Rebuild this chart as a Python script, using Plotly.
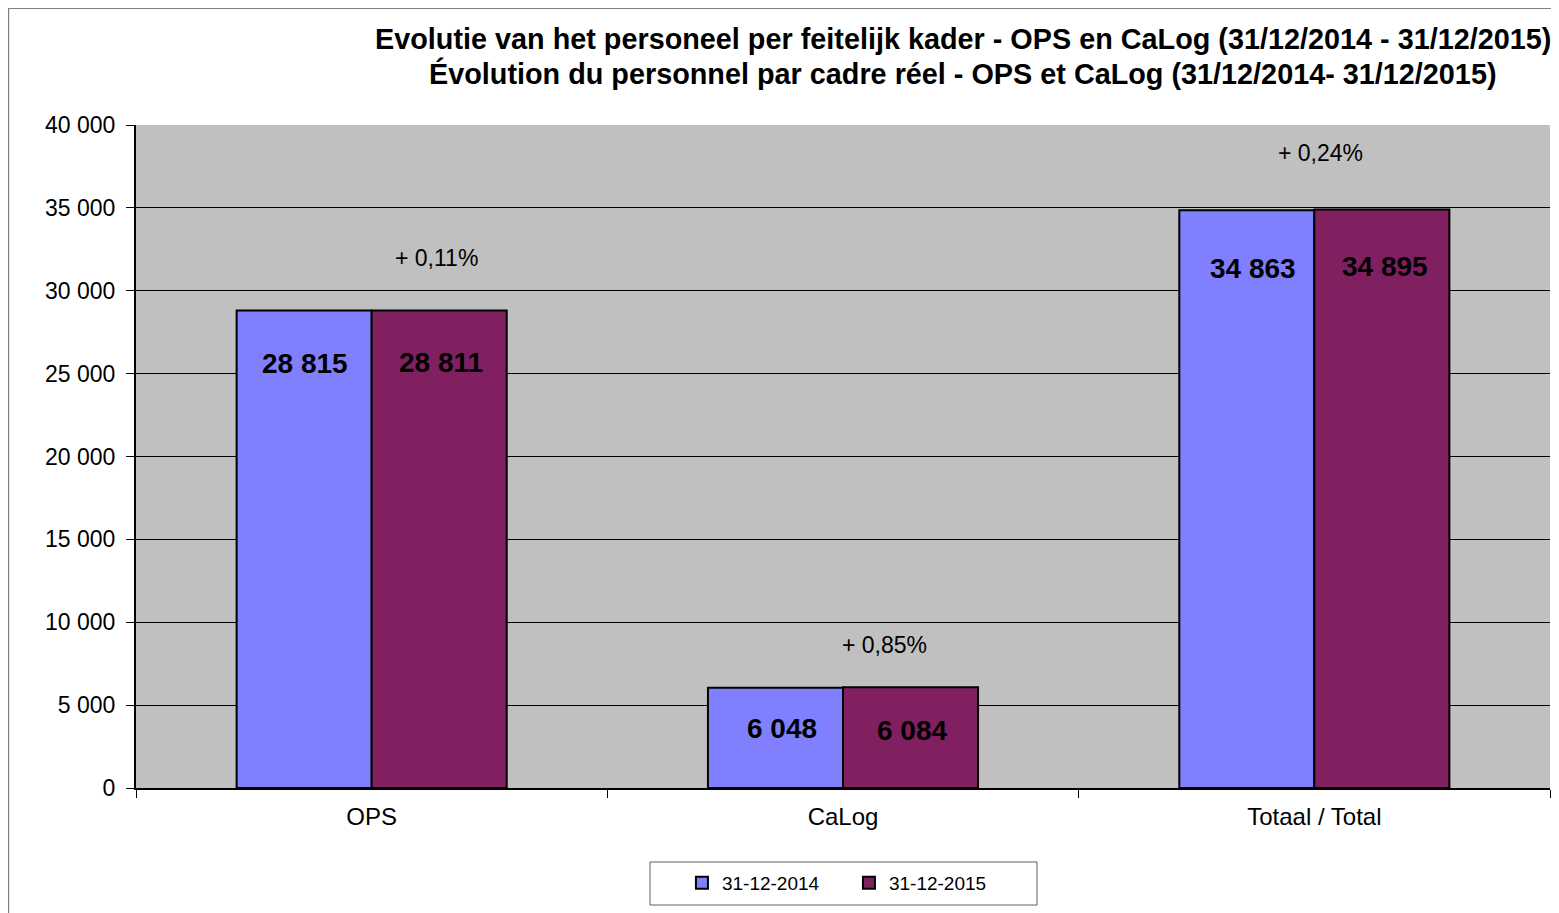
import plotly.graph_objects as go

categories = ["OPS", "CaLog", "Totaal / Total"]
series_names = ["31-12-2014", "31-12-2015"]
values_2014 = [28815, 6048, 34863]
values_2015 = [28811, 6084, 34895]
label_2014 = ["28 815", "6 048", "34 863"]
label_2015 = ["28 811", "6 084", "34 895"]
pct_labels = ["+ 0,11%", "+ 0,85%", "+ 0,24%"]
pct_y = [31950, 8650, 38300]
y_ticks = [0, 5000, 10000, 15000, 20000, 25000, 30000, 35000, 40000]
y_ticktext = ["0", "5 000", "10 000", "15 000", "20 000", "25 000", "30 000", "35 000", "40 000"]
title_lines = ["Evolutie van het personeel per feitelijk kader - OPS en CaLog (31/12/2014 - 31/12/2015)",
               "Évolution du personnel par cadre réel - OPS et CaLog (31/12/2014- 31/12/2015)"]

# label placement offsets (px) per category
lbl_dx_2014 = [-67, -61, -61]
lbl_dx_2015 = [69, 69, 71]
lbl_dy_2014 = [-53, -41, -58]
lbl_dy_2015 = [-52, -43, -57]
pct_dx = [65, 41, 6]

colors = ["#8080FF", "#802060"]
FONT = "Liberation Sans, Arial"

fig = go.Figure()
for name, vals, col in zip(series_names, [values_2014, values_2015], colors):
    fig.add_trace(go.Bar(
        x=categories, y=vals, name=name,
        marker=dict(color=col, line=dict(color="black", width=2)),
    ))

annotations = []
for i, c in enumerate(categories):
    annotations.append(dict(x=c, y=values_2014[i], xref="x", yref="y", text="<b>" + label_2014[i] + "</b>",
                            showarrow=False, xshift=lbl_dx_2014[i], yshift=lbl_dy_2014[i],
                            font=dict(family=FONT, size=28, color="black")))
    annotations.append(dict(x=c, y=values_2015[i], xref="x", yref="y", text="<b>" + label_2015[i] + "</b>",
                            showarrow=False, xshift=lbl_dx_2015[i], yshift=lbl_dy_2015[i],
                            font=dict(family=FONT, size=28, color="black")))
    annotations.append(dict(x=c, y=pct_y[i], xref="x", yref="y", text=pct_labels[i],
                            showarrow=False, xshift=pct_dx[i],
                            font=dict(family=FONT, size=23, color="black")))

for line, yp in zip(title_lines, [1.1297, 1.0784]):
    annotations.append(dict(
        x=0.5848, y=yp, xref="paper", yref="paper", yanchor="middle", xanchor="center",
        text="<b>" + line + "</b>", showarrow=False,
        font=dict(family=FONT, size=28.8, color="black")))

fig.update_layout(
    width=1551, height=905,
    margin=dict(l=128, r=9, t=117, b=125),
    paper_bgcolor="white",
    plot_bgcolor="#C0C0C0",
    barmode="group",
    bargap=0.427,
    bargroupgap=0,
    annotations=annotations,
    showlegend=True,
    legend=dict(orientation="h", x=0.5042, xanchor="center", y=-0.1433, yanchor="middle",
                borderwidth=0, bgcolor="rgba(0,0,0,0)",
                font=dict(family=FONT, size=19, color="black"),
                itemwidth=30, entrywidth=122, tracegroupgap=0),
    shapes=[
        dict(type="line", xref="paper", yref="paper", x0=-0.0902, x1=-0.0902, y0=-0.2, y1=1.176,
             line=dict(color="#808080", width=1.5)),
        dict(type="line", xref="paper", yref="paper", x0=-0.0902, x1=1.01, y0=1.176, y1=1.176,
             line=dict(color="#808080", width=1.5)),
        dict(type="rect", xref="paper", yref="paper", x0=0.3635, x1=0.6372, y0=-0.1116, y1=-0.1765,
             line=dict(color="#606060", width=1), fillcolor="rgba(0,0,0,0)", layer="below"),
    ],
)

fig.update_yaxes(
    range=[0, 40000], tickvals=y_ticks, ticktext=y_ticktext,
    showgrid=True, gridcolor="black", gridwidth=1,
    showline=True, linecolor="black", linewidth=2,
    ticks="outside", ticklen=8, tickcolor="black", ticklabelstandoff=6,
    tickfont=dict(family=FONT, size=23, color="black"),
    zeroline=False,
)
fig.update_xaxes(
    showline=True, linecolor="black", linewidth=2,
    ticks="outside", ticklen=8, tickcolor="black", tickson="boundaries", ticklabelstandoff=6,
    tickfont=dict(family=FONT, size=24, color="black"),
    showgrid=False,
)

fig.write_html("out.html")
